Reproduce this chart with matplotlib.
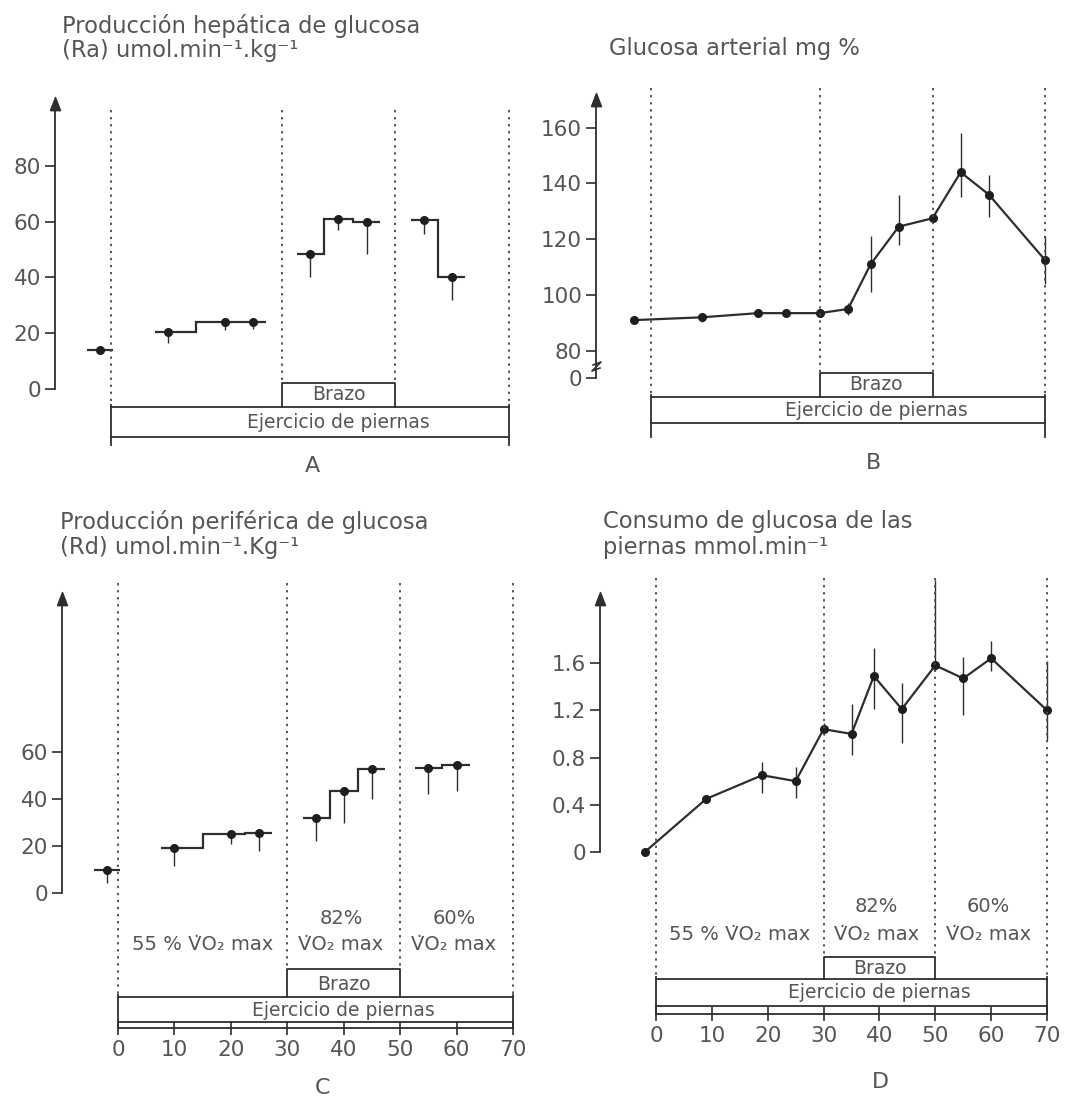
import matplotlib
matplotlib.use("Agg")
import matplotlib.pyplot as plt
from matplotlib import transforms
import numpy as np

# ---- values ----
phase_edges = [0, 30, 50, 70]   # min: legs 0-70, arm 30-50

# A: hepatic glucose production (Ra)
a_time = [-2, 10, 20, 25, 35, 40, 45, 55, 60]
a_val = [14, 20.5, 24, 24, 48.5, 61, 60, 60.5, 40]
a_err_low = [0, 4, 2.7, 2.5, 8.5, 4, 11.5, 5, 8]

# B: arterial glucose
b_time = [-3, 9, 19, 24, 30, 35, 39, 44, 50, 55, 60, 70]
b_val = [91, 92, 93.5, 93.5, 93.5, 95, 111, 124.5, 127.5, 144, 136, 112.5]
b_err_low = [1.5, 1.5, 1.5, 1.5, 1.5, 2, 10, 6.5, 1, 9, 8, 8.5]
b_err_high = [1.5, 1.5, 1.5, 1.5, 1.5, 2, 10, 11.5, 1, 14, 7, 8.5]

# C: peripheral glucose (Rd)
c_time = [-2, 10, 20, 25, 35, 40, 45, 55, 60]
c_val = [10, 19, 25, 25.5, 32, 43.6, 52.8, 53, 54.3]
c_err_low = [5.7, 7.6, 4, 7.5, 10, 13.6, 12.8, 11, 10.7]

# D: leg glucose uptake
d_time = [-2, 9, 19, 25, 30, 35, 39, 44, 50, 55, 60, 70]
d_val = [0.0, 0.45, 0.65, 0.6, 1.04, 1.0, 1.49, 1.21, 1.58, 1.47, 1.64, 1.2]
d_err_low = [0.02, 0.02, 0.15, 0.14, 0.05, 0.18, 0.28, 0.29, 0.05, 0.31, 0.11, 0.25]
d_err_high = [0.02, 0.02, 0.11, 0.12, 0.05, 0.25, 0.24, 0.22, 0.72, 0.18, 0.15, 0.42]

a_ticks = [0, 20, 40, 60, 80]
b_ticks = [80, 100, 120, 140, 160]
c_ticks = [0, 20, 40, 60]
d_ticks = [0, 0.4, 0.8, 1.2, 1.6]
d_ticklabels = ['0', '0.4', '0.8', '1.2', '1.6']
x_ticks = [0, 10, 20, 30, 40, 50, 60, 70]

vo2_pct = ['55 %', '82%', '60%']
VO2 = 'V\u0307O\u2082 max'

W, H = 1066, 1102
TXT = '#555555'
INK = '#2e2e2e'
plt.rcParams['font.family'] = ['DejaVu Sans']

fig = plt.figure(figsize=(W / 100, H / 100), dpi=100)
fig.patch.set_facecolor('white')
PX = transforms.Affine2D().scale(1 / W, -1 / H).translate(0, 1) + fig.transFigure


def panel(axis_x, right, top, bottom, x0, xs, yv, ypx, ys):
    ax = fig.add_axes([axis_x / W, 1 - bottom / H, (right - axis_x) / W, (bottom - top) / H])
    ax.set_xlim((axis_x - x0) / xs, (right - x0) / xs)
    ax.set_ylim(yv - (bottom - ypx) / ys, yv + (ypx - top) / ys)
    ax.patch.set_alpha(0)
    for s in ['top', 'right', 'bottom']:
        ax.spines[s].set_visible(False)
    ax.spines['left'].set_color(INK)
    ax.spines['left'].set_linewidth(1.3)
    ax.tick_params(axis='y', direction='out', length=7, width=1.2,
                   colors=INK, labelcolor=TXT, labelsize=15.5, pad=3)
    ax.set_xticks([])
    bt = transforms.blended_transform_factory(ax.transData, PX)
    to_y = lambda p: yv + (ypx - p) / ys
    return ax, bt, to_y


def y_arrow(ax, to_y, arrow_px, low):
    top = to_y(arrow_px + 10)
    ax.spines['left'].set_bounds(low, top)
    ax.plot([0], [to_y(arrow_px + 7)], marker=[(-1, -2.6), (0, 0), (1, -2.6), (-1, -2.6)],
            ms=19, color=INK, transform=transforms.blended_transform_factory(ax.transAxes, ax.transData),
            clip_on=False)


def frames(ax, bt, dot_top, brazo_top, pier_top, pier_bot, ext, lab_b, lab_p):
    dot = dict(color='#4a4a4a', lw=1.3, ls=(0, (1.3, 2.6)), transform=bt, clip_on=False)
    box = dict(color=INK, lw=1.3, transform=bt, clip_on=False)
    e0, e1, e2, e3 = phase_edges
    for x in (e0, e3):
        ax.plot([x, x], [dot_top, pier_top], **dot)
    for x in (e1, e2):
        ax.plot([x, x], [dot_top, brazo_top], **dot)
    ax.plot([e1, e1, e2, e2], [pier_top, brazo_top, brazo_top, pier_top], **box)
    ax.plot([e0, e3], [pier_top, pier_top], **box)
    ax.plot([e0, e3], [pier_bot, pier_bot], **box)
    ax.plot([e0, e0], [pier_top - 2, ext], **box)
    ax.plot([e3, e3], [pier_top - 2, ext], **box)
    ax.text(40, lab_b, 'Brazo', transform=bt, ha='center', va='center', fontsize=13.5, color=TXT)
    ax.text(40, lab_p, 'Ejercicio de piernas', transform=bt, ha='center', va='center',
            fontsize=13.5, color=TXT)


def steps(ax, t, v):
    t = np.asarray(t, float)
    v = np.asarray(v, float)
    grp = np.digitize(t, phase_edges[:3])
    for g in np.unique(grp):
        tt, vv = t[grp == g], v[grp == g]
        mids = (tt[1:] + tt[:-1]) / 2
        edges = np.concatenate([[tt[0] - 2.3], mids, [tt[-1] + 2.3]])
        ax.stairs(vv, edges, color=INK, lw=1.6, baseline=None)


def vo2_labels(ax, bt, y1, y2):
    ax.text(15, y2, vo2_pct[0] + ' ' + VO2, transform=bt,
            ha='center', va='center', fontsize=14, color=TXT)
    for x, p in zip([39.5, 59.5], vo2_pct[1:]):
        ax.text(x, y1, p, transform=bt, ha='center', va='center', fontsize=14, color=TXT)
        ax.text(x, y2, VO2, transform=bt, ha='center', va='center', fontsize=14, color=TXT)


def x_axis(ax):
    ax.spines['bottom'].set_visible(True)
    ax.spines['bottom'].set_bounds(0, 70)
    ax.spines['bottom'].set_color(INK)
    ax.spines['bottom'].set_linewidth(1.3)
    ax.set_xticks(x_ticks)
    ax.tick_params(axis='x', direction='inout', length=10, width=1.2, colors=INK,
                   labelcolor=TXT, labelsize=15.5, pad=4)


# ---------- A ----------
ax, bt, to_y = panel(55, 530, 80, 450, 111, 5.686, 0, 389, 2.79)
steps(ax, a_time, a_val)
ax.errorbar(a_time, a_val, yerr=[a_err_low, [0] * len(a_val)], fmt='none', ecolor=INK, elinewidth=1)
ax.plot(a_time, a_val, 'o', ms=5.5, color='#1e1e1e')
ax.set_yticks(a_ticks)
y_arrow(ax, to_y, 90, 0)
frames(ax, bt, 110, 383, 407, 437, 445, 395, 422)
fig.text(62 / W, 1 - 26 / H, 'Producción hepática de glucosa', fontsize=16.3, color=TXT, va='center')
fig.text(62 / W, 1 - 50 / H, '(Ra) umol.min⁻¹.kg⁻¹', fontsize=16.3, color=TXT, va='center')
fig.text(312 / W, 1 - 466 / H, 'A', fontsize=16, color=TXT, ha='center', va='center')

# ---------- B ----------
ax, bt, to_y = panel(596, 1060, 80, 450, 651, 5.63, 100, 295, 2.79)
ax.plot(b_time, b_val, '-', lw=1.6, color=INK)
ax.errorbar(b_time, b_val, yerr=[b_err_low, b_err_high], fmt='none', ecolor=INK, elinewidth=1)
ax.plot(b_time, b_val, 'o', ms=5.5, color='#1e1e1e')
b_zero = to_y(378)
ax.set_yticks([b_zero] + b_ticks)
ax.set_yticklabels(['0'] + [str(t) for t in b_ticks])
y_arrow(ax, to_y, 86, b_zero)
# axis break squiggle
ax.plot([596, 596], [362, 372], transform=PX, color='white', lw=3, clip_on=False)
ax.plot([593, 601, 592, 600], [365, 362, 371, 368], transform=PX, color=INK, lw=1.2, clip_on=False)
frames(ax, bt, 88, 373, 397, 423, 437, 385, 410)
fig.text(609 / W, 1 - 48 / H, 'Glucosa arterial mg %', fontsize=16.3, color=TXT, va='center')
fig.text(874 / W, 1 - 463 / H, 'B', fontsize=16, color=TXT, ha='center', va='center')

# ---------- C ----------
ax, bt, to_y = panel(62, 530, 575, 1028, 118, 5.643, 0, 893, 2.35)
steps(ax, c_time, c_val)
ax.errorbar(c_time, c_val, yerr=[c_err_low, [0] * len(c_val)], fmt='none', ecolor=INK, elinewidth=1)
ax.plot(c_time, c_val, 'o', ms=5.5, color='#1e1e1e')
ax.set_yticks(c_ticks)
y_arrow(ax, to_y, 585, 0)
frames(ax, bt, 583, 969, 997, 1022, 1028, 984, 1011)
vo2_labels(ax, bt, 919, 944)
x_axis(ax)
fig.text(60 / W, 1 - 522 / H, 'Producción periférica de glucosa', fontsize=16.3, color=TXT, va='center')
fig.text(60 / W, 1 - 548 / H, '(Rd) umol.min⁻¹.Kg⁻¹', fontsize=16.3, color=TXT, va='center')
fig.text(323 / W, 1 - 1088 / H, 'C', fontsize=16, color=TXT, ha='center', va='center')

# ---------- D ----------
ax, bt, to_y = panel(600, 1060, 570, 1014, 656, 5.586, 0, 852, 118.1)
ax.plot(d_time, d_val, '-', lw=1.6, color=INK)
ax.errorbar(d_time, d_val, yerr=[d_err_low, d_err_high], fmt='none', ecolor=INK, elinewidth=1)
ax.plot(d_time, d_val, 'o', ms=5.5, color='#1e1e1e')
ax.set_yticks(d_ticks)
ax.set_yticklabels(d_ticklabels)
y_arrow(ax, to_y, 585, 0)
frames(ax, bt, 578, 957, 979, 1006, 1014, 969, 993)
vo2_labels(ax, bt, 906, 934)
x_axis(ax)
fig.text(603 / W, 1 - 522 / H, 'Consumo de glucosa de las', fontsize=16.3, color=TXT, va='center')
fig.text(603 / W, 1 - 548 / H, 'piernas mmol.min⁻¹', fontsize=16.3, color=TXT, va='center')
fig.text(880 / W, 1 - 1082 / H, 'D', fontsize=16, color=TXT, ha='center', va='center')

fig.savefig('out.png', dpi=100, facecolor='white')
